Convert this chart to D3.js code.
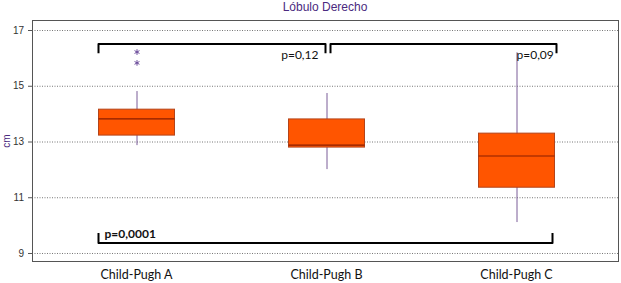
<!DOCTYPE html>
<html>
<head>
<meta charset="utf-8">
<script src="https://cdn.jsdelivr.net/npm/d3@7"></script>
<style>
  body { margin: 0; background: #fff; }
  svg { display: block; }
</style>
</head>
<body>
<svg id="chart" width="621" height="283"></svg>
<script>
// data
var groups = ["Child-Pugh A", "Child-Pugh B", "Child-Pugh C"];
var whiskerLow = [12.87, 12.01, 10.11];
var q1 = [13.23, 12.80, 11.36];
var medians = [13.81, 12.87, 12.48];
var q3 = [14.16, 13.81, 13.30];
var whiskerHigh = [14.81, 14.74, 16.20];
var outliers = [{ g: "Child-Pugh A", v: 16.21 }, { g: "Child-Pugh A", v: 15.82 }];
var yTicks = [9, 11, 13, 15, 17];
var pLabels = ["p=0,12", "p=0,09", "p=0,0001"];

var svg = d3.select("#chart");
var plot = { left: 32, top: 20, right: 619, bottom: 262 };

var y = d3.scaleLinear().domain([8.677, 17.359]).range([plot.bottom, plot.top]);
var x = d3.scalePoint().domain(groups).range([41.5, 611.5]).padding(0.5);
var boxW = 76;

// title
svg.append("text")
	.attr("x", 325)
	.attr("y", 11)
	.attr("text-anchor", "middle")
	.attr("font-family", "Liberation Sans, Arial, sans-serif")
	.attr("font-size", "12px")
	.attr("fill", "#4b2a80")
	.text("Lóbulo Derecho");

// grid
svg.append("g")
	.attr("class", "grid")
	.attr("transform", `translate(${plot.left}, 0)`)
	.call(d3.axisLeft(y).tickValues(yTicks).tickSize(-(plot.right - plot.left)).tickFormat(""))
	.call(g => g.select(".domain").remove())
	.call(g => g.selectAll("line").attr("stroke", "#777").attr("stroke-dasharray", "1,1.5"));

// y axis
svg.append("g")
	.attr("class", "yAxis")
	.attr("transform", `translate(${plot.left}, 0)`)
	.call(d3.axisLeft(y).tickValues(yTicks).tickSize(4).tickPadding(4))
	.call(g => g.select(".domain").remove())
	.call(g => g.selectAll("line").attr("stroke", "#555"))
	.call(g => g.selectAll("text")
		.attr("font-family", "Liberation Sans, Arial, sans-serif")
		.attr("font-size", "10px")
		.attr("fill", "#333"));

// frame
svg.append("rect")
	.attr("x", plot.left + 0.5)
	.attr("y", plot.top + 0.5)
	.attr("width", plot.right - plot.left - 1)
	.attr("height", plot.bottom - plot.top - 1)
	.attr("fill", "none")
	.attr("stroke", "#555");

svg.append("text")
	.attr("transform", `translate(10, 141) rotate(-90)`)
	.attr("text-anchor", "middle")
	.attr("font-family", "Liberation Sans, Arial, sans-serif")
	.attr("font-size", "10px")
	.attr("fill", "#4b2a80")
	.text("cm");

// x labels
svg.append("g")
	.selectAll("text")
	.data(groups)
	.enter().append("text")
	.attr("x", d => x(d))
	.attr("y", 279)
	.attr("text-anchor", "middle")
	.attr("font-family", "Lato, sans-serif")
	.attr("font-size", "12.5px")
	.attr("fill", "#111")
	.text(d => d);

// boxes
var boxes = svg.append("g").selectAll("g")
	.data(groups)
	.enter().append("g");

boxes.append("line")
	.attr("x1", d => x(d) + 0.5)
	.attr("x2", d => x(d) + 0.5)
	.attr("y1", (d, i) => y(whiskerHigh[i]))
	.attr("y2", (d, i) => y(whiskerLow[i]))
	.attr("stroke", "#7a5c98")
	.attr("stroke-width", 1);

boxes.append("rect")
	.attr("x", d => x(d) - boxW / 2)
	.attr("width", boxW)
	.attr("y", (d, i) => y(q3[i]))
	.attr("height", (d, i) => y(q1[i]) - y(q3[i]))
	.attr("fill", "#ff5500")
	.attr("stroke", "#b3441a")
	.attr("stroke-width", 1);

boxes.append("line")
	.attr("x1", d => x(d) - boxW / 2)
	.attr("x2", d => x(d) + boxW / 2)
	.attr("y1", (d, i) => y(medians[i]))
	.attr("y2", (d, i) => y(medians[i]))
	.attr("stroke", "#8a1e00")
	.attr("stroke-width", 1.2);

// outliers
svg.append("g").selectAll("path")
	.data(outliers)
	.enter().append("path")
	.attr("transform", d => `translate(${x(d.g) + 0.5}, ${y(d.v)})`)
	.attr("d", d3.symbol(d3.symbolAsterisk, 22))
	.attr("fill", "none")
	.attr("stroke", "#6a4a9a")
	.attr("stroke-width", 1);

// significance brackets
var brk = svg.append("g")
	.attr("fill", "none")
	.attr("stroke", "#000")
	.attr("stroke-width", 2)
	.attr("stroke-linejoin", "round");

var line = d3.line();
var topY = y(16.50), topTick = y(16.17);
var lowY = y(9.36), lowTick = y(9.72);
var xa = x(groups[0]), xb = x(groups[1]), xc = x(groups[2]);

brk.append("path").attr("d", line([[xa - 38, topTick], [xa - 38, topY], [xb - 1, topY], [xb - 1, topTick]]));
brk.append("path").attr("d", line([[xb + 4, topTick], [xb + 4, topY], [xc + 40, topY], [xc + 40, topTick]]));
brk.append("path").attr("d", line([[xa - 38, lowTick], [xa - 38, lowY], [xc + 36, lowY], [xc + 36, lowTick]]));

svg.append("text")
	.attr("x", xb - 8)
	.attr("y", 59)
	.attr("text-anchor", "end")
	.attr("font-family", "Lato, sans-serif")
	.attr("font-size", "12px")
	.attr("fill", "#111")
	.text(pLabels[0]);

svg.append("text")
	.attr("x", xc)
	.attr("y", 59)
	.attr("font-family", "Lato, sans-serif")
	.attr("font-size", "12px")
	.attr("fill", "#111")
	.text(pLabels[1]);

svg.append("text")
	.attr("x", xa - 32)
	.attr("y", 238)
	.attr("font-family", "Lato, sans-serif")
	.attr("font-size", "12px")
	.attr("font-weight", "bold")
	.attr("fill", "#111")
	.text(pLabels[2]);
</script>
</body>
</html>
